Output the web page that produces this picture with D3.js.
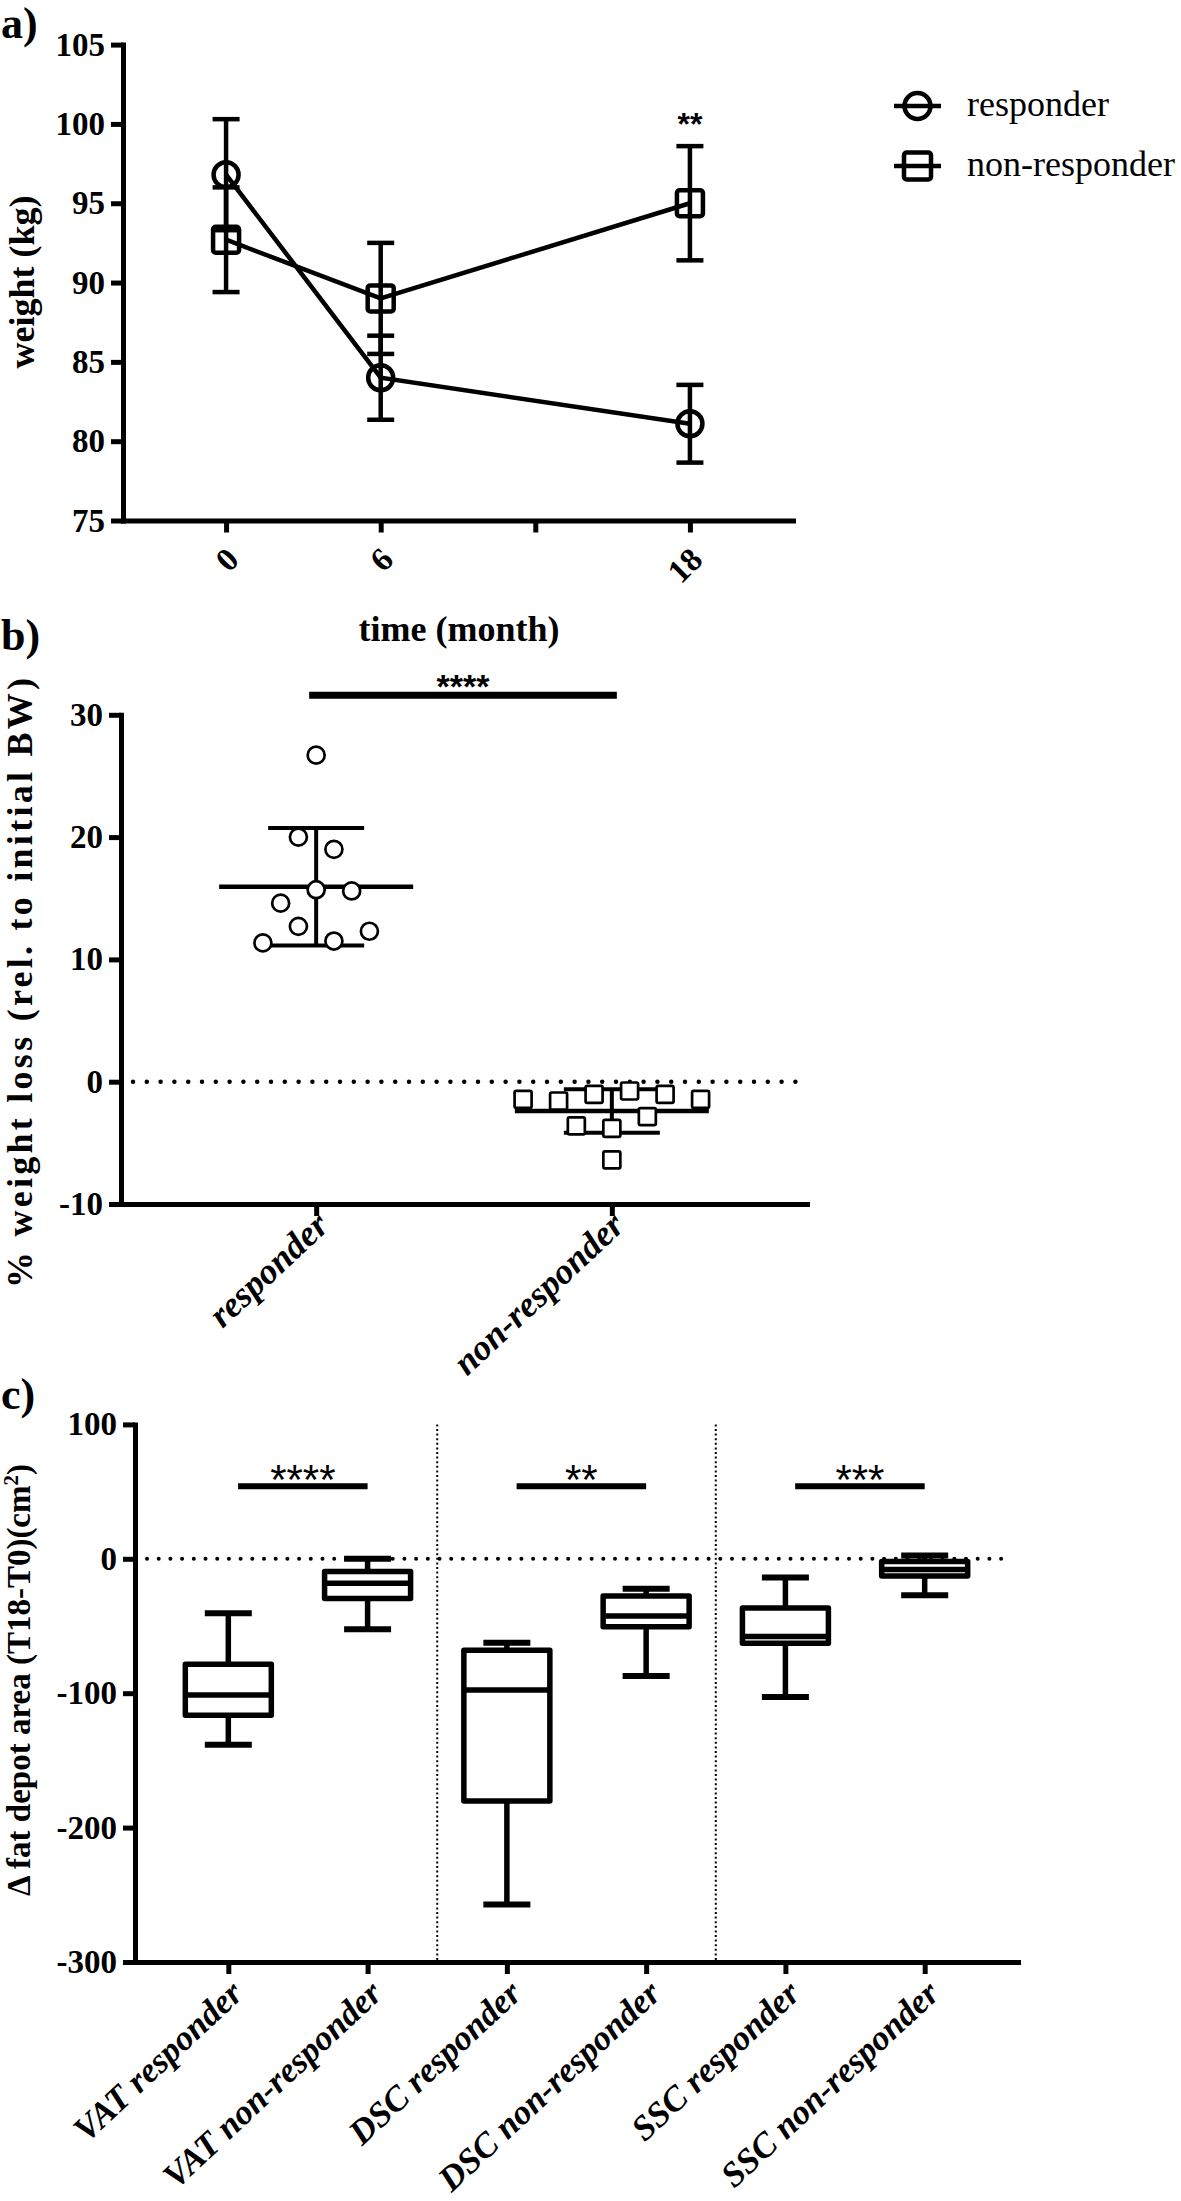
<!DOCTYPE html>
<html><head><meta charset="utf-8">
<script src="https://cdn.jsdelivr.net/npm/d3@7"></script>
<style>body{margin:0;background:#fff}svg{display:block;background:#fff}</style>
</head><body><svg id="chart" width="1181" height="2201"></svg>
<script>
// ---------- data ----------
// panel a
const timePoints = [0, 6, 18];
const timeTicks = [0, 6, 12, 18];
const weightTicks = [75, 80, 85, 90, 95, 100, 105];
const responderWeight = [96.8, 84.0, 81.1];
const responderWeightSD = [3.5, 2.65, 2.45];
const nonResponderWeight = [92.7, 89.0, 95.0];
const nonResponderWeightSD = [3.3, 3.5, 3.6];
const weightSignif = "**";
// panel b
const lossGroups = ["responder", "non-responder"];
const responderLoss = [26.7, 20.0, 19.0, 14.6, 15.7, 15.6, 11.35, 12.7, 11.5, 12.3];
const nonResponderLoss = [-1.44, -1.58, -1.03, -0.76, -1.03, -1.44, -3.62, -3.81, -2.86, -6.4];
const lossTicks = [-10, 0, 10, 20, 30];
const lossSignif = "****";
const lossSignifLevel = 31.6;
// panel c
const depotGroups = ["VAT responder", "VAT non-responder", "DSC responder", "DSC non-responder", "SSC responder", "SSC non-responder"];
const depotMin = [-138.4, -52.5, -257.3, -87.2, -102.8, -27.2];
const depotQ1 = [-116.4, -29.6, -180.3, -50.5, -62.9, -12.8];
const depotMedian = [-101.3, -18.2, -97.6, -42.5, -57.9, -8.0];
const depotQ3 = [-78.5, -9.5, -68.1, -27.7, -36.6, -2.0];
const depotMax = [-40.5, 0.1, -62.4, -22.2, -14.0, 2.5];
const depotTicks = [-300, -200, -100, 0, 100];
const depotSignif = ["****", "**", "***"];
const depotSignifLevel = 54;

// ---------- helpers ----------
const svg = d3.select("#chart");
const serif = '"Liberation Serif","Times New Roman",serif';
const sans = '"Liberation Sans",Arial,sans-serif';
const plain = d => String(d);

function styleAxis(g, size, italic) {
  g.attr("font-family", null).attr("font-size", null);
  g.select(".domain").attr("stroke", "#000").attr("stroke-width", 5).attr("stroke-linecap", "square");
  g.selectAll(".tick line").attr("stroke", "#000").attr("stroke-width", 5);
  g.selectAll(".tick text").attr("fill", "#000")
    .style("font-family", serif).style("font-weight", "bold")
    .style("font-size", size + "px").style("font-style", italic ? "italic" : "normal");
}
function rotateLabels(g, dx, dy, angle) {
  g.selectAll(".tick text").attr("x", 0).attr("y", 0).attr("dy", null)
    .attr("text-anchor", "end").attr("transform", `translate(${dx},${dy}) rotate(${angle})`);
}
function panelLabel(txt, x, y) {
  svg.append("text").attr("x", x).attr("y", y).text(txt)
    .style("font-family", serif).style("font-weight", "bold").style("font-size", "44px");
}
function yTitle(txt, x, y, size, len) {
  const t = svg.append("text").attr("transform", `translate(${x},${y}) rotate(-90)`)
    .attr("text-anchor", "middle").style("font-family", serif).style("font-weight", "bold")
    .style("font-size", size + "px").text(txt);
  if (len) t.attr("textLength", len).attr("lengthAdjust", "spacing");
  return t;
}
function stars(txt, x, yCenter, size, weight) {
  svg.append("text").attr("x", x).attr("y", yCenter + 0.57 * size).attr("text-anchor", "middle")
    .style("font-family", sans).style("font-weight", weight).style("font-size", size + "px").text(txt);
}
function vline(g, x, y1, y2, w) {
  g.append("line").attr("x1", x).attr("x2", x).attr("y1", y1).attr("y2", y2).attr("stroke", "#000").attr("stroke-width", w);
}
function hline(g, x1, x2, y, w) {
  g.append("line").attr("x1", x1).attr("x2", x2).attr("y1", y).attr("y2", y).attr("stroke", "#000").attr("stroke-width", w);
}
// scatter offsets: points that crowd together vertically are spread symmetrically
function swarm(values, yScale, step, thresh) {
  const idx = values.map((v, i) => i).sort((a, b) => values[b] - values[a]);
  const offs = new Array(values.length);
  let group = [idx[0]];
  const flush = () => {
    const g = group.slice().sort((a, b) => a - b);
    g.forEach((k, j) => offs[k] = (j - (g.length - 1) / 2) * step);
  };
  for (let i = 1; i < idx.length; i++) {
    if (Math.abs(yScale(values[idx[i]]) - yScale(values[idx[i - 1]])) < thresh) group.push(idx[i]);
    else { flush(); group = [idx[i]]; }
  }
  flush();
  return offs;
}
function marker(g, shape, x, y, size, fill, sw) {
  if (shape === "circle") {
    g.append("circle").attr("cx", x).attr("cy", y).attr("r", size / 2)
      .attr("fill", fill).attr("stroke", "#000").attr("stroke-width", sw);
  } else {
    g.append("rect").attr("x", x - size / 2).attr("y", y - size / 2).attr("width", size).attr("height", size)
      .attr("rx", sw * 0.6).attr("fill", fill).attr("stroke", "#000").attr("stroke-width", sw);
  }
}

// ---------- panel a ----------
const xA = d3.scaleLinear().domain([-4, 22]).range([123, 793]);
const yA = d3.scaleLinear().domain([75, 105]).range([520.5, 44.6]);
const gA = svg.append("g");
gA.append("g").attr("transform", `translate(${xA.range()[0]},0)`)
  .call(d3.axisLeft(yA).tickValues(weightTicks).tickFormat(plain).tickSize(12).tickPadding(6).tickSizeOuter(0))
  .call(g => styleAxis(g, 33));
gA.append("g").attr("transform", `translate(0,${yA.range()[0]})`)
  .call(d3.axisBottom(xA).tickValues(timeTicks).tickFormat(d => timePoints.includes(d) ? String(d) : "").tickSize(12).tickSizeOuter(0))
  .call(g => styleAxis(g, 33)).call(g => rotateLabels(g, 14, 41, -45));

const seriesA = [
  { mean: responderWeight, sd: responderWeightSD, shape: "circle", label: "responder" },
  { mean: nonResponderWeight, sd: nonResponderWeightSD, shape: "square", label: "non-responder" }
];
const lineA = d3.line().x((d, i) => xA(timePoints[i])).y(d => yA(d));
seriesA.forEach(s => {
  gA.append("path").attr("d", lineA(s.mean)).attr("fill", "none").attr("stroke", "#000").attr("stroke-width", 4.5);
});
seriesA.forEach(s => {
  s.mean.forEach((m, i) => {
    const x = xA(timePoints[i]);
    vline(gA, x, yA(m - s.sd[i]), yA(m + s.sd[i]), 4.5);
    hline(gA, x - 13.5, x + 13.5, yA(m - s.sd[i]), 4.5);
    hline(gA, x - 13.5, x + 13.5, yA(m + s.sd[i]), 4.5);
  });
});
seriesA.forEach(s => {
  s.mean.forEach((m, i) => marker(gA, s.shape, xA(timePoints[i]), yA(m), s.shape === "circle" ? 25 : 26, "none", 4.5));
});
stars(weightSignif, xA(18), yA(nonResponderWeight[2] + nonResponderWeightSD[2]) - 29, 32, "bold");
// legend
seriesA.forEach((s, i) => {
  const y = 106 + i * 60;
  hline(gA, 894, 941, y, 4.5);
  marker(gA, s.shape, 917.5, y, s.shape === "circle" ? 26 : 27, "none", 4.5);
  gA.append("text").attr("x", 967).attr("y", y + 10).text(s.label)
    .style("font-family", serif).style("font-size", "36px");
});
svg.append("text").attr("x", (xA.range()[0] + xA.range()[1]) / 2 + 1).attr("y", 641).attr("text-anchor", "middle")
  .style("font-family", serif).style("font-weight", "bold").style("font-size", "36px").text("time (month)");
yTitle("weight (kg)", 34, 282, 36);
panelLabel("a)", 1, 38);

// ---------- panel b ----------
const xB = d3.scalePoint().domain(lossGroups).range([121, 807]).padding(0.66);
const yB = d3.scaleLinear().domain([-10, 30]).range([1204, 714.8]);
const gB = svg.append("g");
gB.append("line").attr("x1", xB.range()[0] + 12).attr("x2", xB.range()[1] - 8)
  .attr("y1", yB(0)).attr("y2", yB(0)).attr("stroke", "#000").attr("stroke-width", 4.5)
  .attr("stroke-linecap", "round").attr("stroke-dasharray", "0 13.8");
gB.append("g").attr("transform", `translate(${xB.range()[0]},0)`)
  .call(d3.axisLeft(yB).tickValues(lossTicks).tickFormat(plain).tickSize(12).tickPadding(6).tickSizeOuter(0))
  .call(g => styleAxis(g, 33));
gB.append("g").attr("transform", `translate(0,${yB.range()[0]})`)
  .call(d3.axisBottom(xB).tickSize(12).tickSizeOuter(0))
  .call(g => styleAxis(g, 36, true)).call(g => rotateLabels(g, 14, 24, -43));

const seriesB = [
  { group: lossGroups[0], values: responderLoss, shape: "circle" },
  { group: lossGroups[1], values: nonResponderLoss, shape: "square" }
];
seriesB.forEach(s => {
  const cx = xB(s.group);
  const m = d3.mean(s.values), sd = d3.deviation(s.values);
  hline(gB, cx - 97, cx + 97, yB(m), 4.5);
  vline(gB, cx, yB(m - sd), yB(m + sd), 4);
  hline(gB, cx - 48, cx + 48, yB(m - sd), 4);
  hline(gB, cx - 48, cx + 48, yB(m + sd), 4);
  const offs = swarm(s.values, yB, 35.5, 15);
  s.values.forEach((v, i) => marker(gB, s.shape, cx + offs[i], yB(v), 17, "#fff", 2.7));
});
const bx1 = xB(lossGroups[0]) - 7, bx2 = xB(lossGroups[1]) + 5;
hline(gB, bx1, bx2, yB(lossSignifLevel), 7);
stars(lossSignif, (bx1 + bx2) / 2, 679, 34, "bold");
yTitle("% weight loss (rel. to initial BW)", 32, 983, 36, 610);
panelLabel("b)", 1, 650);

// ---------- panel c ----------
const xC = d3.scalePoint().domain(depotGroups).range([135, 1018]).padding(0.67);
const yC = d3.scaleLinear().domain([-300, 100]).range([1962, 1424.4]);
const gC = svg.append("g");
const stepC = xC.step();
gC.append("line").attr("x1", xC.range()[0] + 12).attr("x2", xC.range()[1] - 11)
  .attr("y1", yC(0)).attr("y2", yC(0)).attr("stroke", "#000").attr("stroke-width", 4)
  .attr("stroke-linecap", "round").attr("stroke-dasharray", "0 11.7");
[1, 3].forEach(k => {
  const x = (xC(depotGroups[k]) + xC(depotGroups[k + 1])) / 2;
  gC.append("line").attr("x1", x).attr("x2", x).attr("y1", yC(100)).attr("y2", yC(-300))
    .attr("stroke", "#000").attr("stroke-width", 2).attr("stroke-dasharray", "2 2.6");
});
gC.append("g").attr("transform", `translate(${xC.range()[0]},0)`)
  .call(d3.axisLeft(yC).tickValues(depotTicks).tickFormat(plain).tickSize(12).tickPadding(6).tickSizeOuter(0))
  .call(g => styleAxis(g, 33));
gC.append("g").attr("transform", `translate(0,${yC.range()[0]})`)
  .call(d3.axisBottom(xC).tickSize(12).tickSizeOuter(0))
  .call(g => styleAxis(g, 35, true)).call(g => rotateLabels(g, 16, 34, -43));

depotGroups.forEach((grp, i) => {
  const cx = xC(grp);
  vline(gC, cx, yC(depotMax[i]), yC(depotQ3[i]), 5.5);
  vline(gC, cx, yC(depotQ1[i]), yC(depotMin[i]), 5.5);
  hline(gC, cx - 23.5, cx + 23.5, yC(depotMax[i]), 6);
  hline(gC, cx - 23.5, cx + 23.5, yC(depotMin[i]), 6);
  gC.append("rect").attr("x", cx - 43).attr("width", 86)
    .attr("y", yC(depotQ3[i])).attr("height", yC(depotQ1[i]) - yC(depotQ3[i]))
    .attr("fill", "none").attr("stroke", "#000").attr("stroke-width", 5.5).attr("stroke-linejoin", "round");
  hline(gC, cx - 43, cx + 43, yC(depotMedian[i]), 5.5);
});
depotSignif.forEach((s, k) => {
  const x1 = xC(depotGroups[2 * k]) + 0.07 * stepC, x2 = xC(depotGroups[2 * k + 1]);
  hline(gC, x1, x2, yC(depotSignifLevel), 6);
  stars(s, (x1 + x2) / 2, yC(depotSignifLevel) - 16, 42, "normal");
});
const tc = yTitle("", 30, 1680, 33);
tc.append("tspan").text("Δ fat depot area (T18-T0)(cm");
tc.append("tspan").attr("dy", -12).style("font-size", "21px").text("2");
tc.append("tspan").attr("dy", 12).text(")");
panelLabel("c)", 1, 1409);
</script></body></html>
